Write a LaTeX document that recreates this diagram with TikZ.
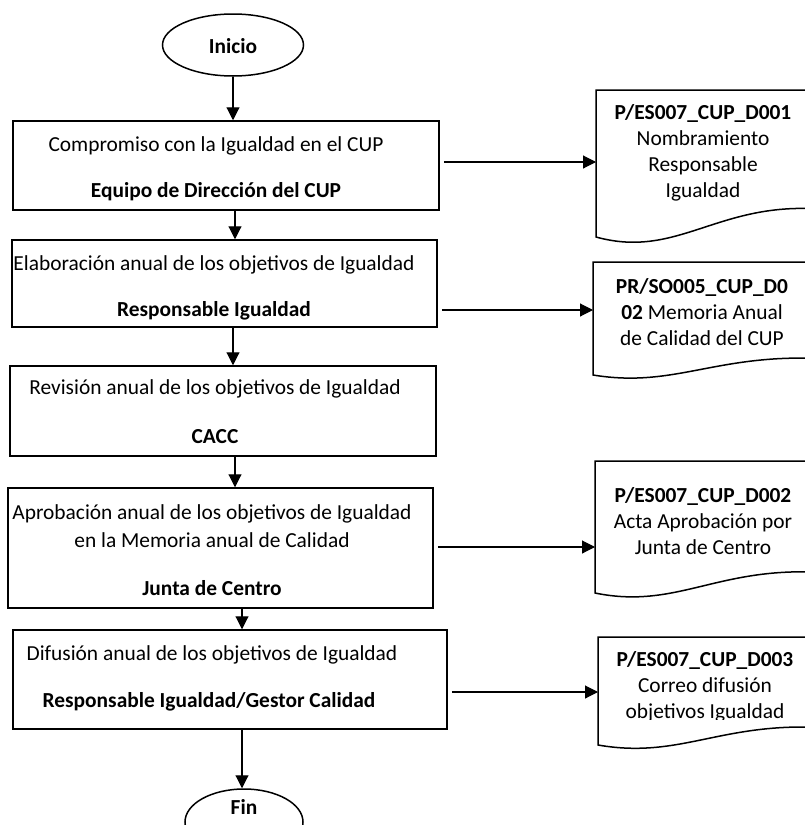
\documentclass[tikz,border=0pt]{standalone}
\usepackage{fontspec}
\setmainfont{Carlito}
\usetikzlibrary{arrows.meta,shapes.geometric,calc}
\newcommand\docshape[4]{%
  \draw[shapeline] ({#1},{#3}) -- ({#1},{#2}) -- (830,{#2}) -- (830,{#3-#4})
    .. controls ({#1+124},{#3-1.45*#4}) and ({#1+84},{#3+0.86*#4}) .. ({#1},{#3}) -- cycle;}
\begin{document}
\begin{tikzpicture}[x=1pt,y=-1pt,
  shapeline/.style={line width=1.5pt},
  boxnode/.style={draw,line width=1.5pt,rectangle,inner sep=0pt},
  termnode/.style={draw,line width=1.5pt,ellipse,inner sep=0pt},
  txt/.style={font=\fontsize{21.4}{26}\selectfont,inner sep=0pt,align=center},
  arr/.style={line width=1.1pt,-{Triangle[length=13pt,width=13pt]}},
]
\useasboundingbox (0,0) rectangle (804,825);
% terminals
\node[termnode,minimum width=141pt,minimum height=62pt] (inicio) at (233,45) {};
\node[txt] (inicioT) at (233,46) {\textbf{Inicio}};
\node[termnode,minimum width=118pt,minimum height=66pt] (fin) at (244,822) {};
\node[txt] (finT) at (244,807) {\textbf{Fin}};
% boxes
\node[boxnode,minimum width=426pt,minimum height=89pt] (b1) at (226,165.5) {};
\node[txt] (b1a) at (216,146) {Compromiso con la Igualdad en el CUP};
\node[txt] (b1b) at (216,192) {\textbf{Equipo de Dirección del CUP}};
\node[boxnode,minimum width=425pt,minimum height=87pt] (b2) at (224.5,283.5) {};
\node[txt] (b2a) at (214,265) {Elaboración anual de los objetivos de Igualdad};
\node[txt] (b2b) at (214,311) {\textbf{Responsable Igualdad}};
\node[boxnode,minimum width=426pt,minimum height=90pt] (b3) at (223,411) {};
\node[txt] (b3a) at (215,389) {Revisión anual de los objetivos de Igualdad};
\node[txt] (b3b) at (215,437) {\textbf{CACC}};
\node[boxnode,minimum width=425pt,minimum height=120pt] (b4) at (220.5,548) {};
\node[txt,font=\fontsize{21.4}{28}\selectfont] (b4a) at (212,526) {Aprobación anual de los objetivos de Igualdad\\en la Memoria anual de Calidad};
\node[txt] (b4b) at (212,588) {\textbf{Junta de Centro}};
\node[boxnode,minimum width=434pt,minimum height=99pt] (b5) at (230,679.5) {};
\node[txt] (b5a) at (212,655) {Difusión anual de los objetivos de Igualdad};
\node[txt] (b5b) at (209,702) {\textbf{Responsable Igualdad/Gestor Calidad}};
% documents
\docshape{596}{90}{237}{27}
\node[txt] (d1t) at (703,152.5) {\textbf{P/ES007\_CUP\_D001}\\Nombramiento\\Responsable\\Igualdad};
\coordinate (d1) at (596,162);
\docshape{593}{262}{375}{16}
\node[txt] (d2t) at (702,312.5) {\textbf{PR/SO005\_CUP\_D0}\\\textbf{02} Memoria Anual\\de Calidad del CUP};
\coordinate (d2) at (593,310);
\docshape{595}{461}{593}{20}
\node[txt] (d3t) at (703,521) {\textbf{P/ES007\_CUP\_D002}\\Acta Aprobación por\\Junta de Centro};
\coordinate (d3) at (595,547);
\docshape{598}{637}{745}{17}
\begin{scope}
\clip (600,640) rectangle (800,719);
\node[txt] (d4t) at (705,687) {\textbf{P/ES007\_CUP\_D003}\\Correo difusión\\objetivos Igualdad};
\end{scope}
\coordinate (d4) at (598,692);
% x references
\coordinate (xa) at (233,0);
\coordinate (xb) at (235,0);
\coordinate (xc) at (242,0);
% vertical connectors
\draw[arr] (xa |- inicio.south) -- (xa |- b1.north);
\draw[arr] (xb |- b1.south) -- (xb |- b2.north);
\draw[arr] (xa |- b2.south) -- (xa |- b3.north);
\draw[arr] (xb |- b3.south) -- (xb |- b4.north);
\draw[arr] (xc |- b4.south) -- (xc |- b5.north);
\draw[arr] (xc |- b5.south) -- (xc |- fin.north);
% horizontal connectors
\draw[arr,shorten <=4pt] (b1.east |- d1) -- (d1);
\draw[arr,shorten <=4pt] (b2.east |- d2) -- (d2);
\draw[arr,shorten <=4pt] (b4.east |- d3) -- (d3);
\draw[arr,shorten <=4pt] (b5.east |- d4) -- (d4);
\end{tikzpicture}
\end{document}
